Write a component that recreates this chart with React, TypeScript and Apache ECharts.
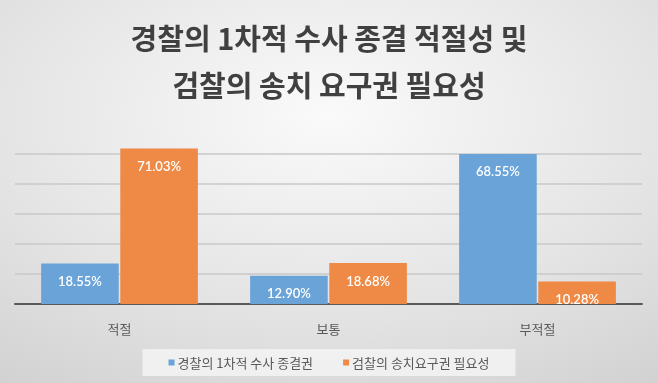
import React, { useEffect, useRef } from "react";
import * as echarts from "echarts";

const titleLines = ["경찰의 1차적 수사 종결 적절성 및", "검찰의 송치 요구권 필요성"];
const categories = ["적절", "보통", "부적절"];
const seriesNames = ["경찰의 1차적 수사 종결권", "검찰의 송치요구권 필요성"];
const policeValues = [18.55, 12.9, 68.55];
const prosecutionValues = [71.03, 18.68, 10.28];
const seriesColors = ["#6aa3d8", "#ee8a45"];

export default function App() {
  const ref = useRef<HTMLDivElement>(null);
  useEffect(() => {
    if (!ref.current) return;
    const chart = echarts.init(ref.current, undefined, { renderer: "svg" });
    const fontKR = "'Noto Sans CJK KR', 'Noto Sans', sans-serif";
    const label = {
      show: true,
      position: "insideTop",
      distance: 11,
      color: "#ffffff",
      fontSize: 13,
      fontWeight: 600,
      fontFamily: "Lato, 'Noto Sans', sans-serif",
      formatter: (p: any) => p.value.toFixed(2) + "%",
    };
    chart.setOption({
      animation: false,
      backgroundColor: {
        type: "radial",
        x: 0.5,
        y: 0.3,
        r: 0.85,
        colorStops: [
          { offset: 0, color: "#fafafa" },
          { offset: 0.6, color: "#e4e4e4" },
          { offset: 1, color: "#d2d2d2" },
        ],
      },
      title: {
        text: titleLines.join("\n"),
        left: "center",
        top: 8,
        textStyle: {
          fontFamily: fontKR,
          fontSize: 29,
          fontWeight: "bold",
          color: "#404040",
          lineHeight: 47,
        },
      },
      legend: {
        data: seriesNames,
        left: "center",
        top: 349,
        itemWidth: 6,
        itemHeight: 6,
        itemGap: 30,
        icon: "rect",
        padding: [7, 26, 7, 26],
        backgroundColor: "rgba(245,245,245,0.8)",
        textStyle: { fontFamily: fontKR, fontSize: 13, color: "#595959", padding: [0, 0, 0, -2] },
      },
      grid: { left: 15, right: 16, top: 124, bottom: 79, containLabel: false },
      xAxis: {
        type: "category",
        data: categories,
        axisLine: { lineStyle: { color: "#595959", width: 2 } },
        axisTick: { show: false },
        axisLabel: { fontFamily: fontKR, fontSize: 13, color: "#595959", margin: 18 },
      },
      yAxis: {
        type: "value",
        min: 0,
        max: 82.2,
        interval: 13.7,
        axisLabel: { show: false },
        axisLine: { show: false },
        axisTick: { show: false },
        splitLine: {
          lineStyle: {
            color: ["#c8c8c8", "#c8c8c8", "#c8c8c8", "#c8c8c8", "#c8c8c8", "#c8c8c8", "rgba(0,0,0,0)"],
            width: 1.5,
          },
        },
      },
      series: [
        {
          name: seriesNames[0],
          type: "bar",
          data: policeValues,
          itemStyle: { color: seriesColors[0] },
          barGap: "2%",
          barCategoryGap: "25%",
          label,
        },
        {
          name: seriesNames[1],
          type: "bar",
          data: prosecutionValues,
          itemStyle: { color: seriesColors[1] },
          barGap: "2%",
          barCategoryGap: "25%",
          label,
        },
      ],
    });
    return () => chart.dispose();
  }, []);
  return <div ref={ref} style={{ width: 658, height: 383, position: "fixed", left: 0, top: 0 }} />;
}
